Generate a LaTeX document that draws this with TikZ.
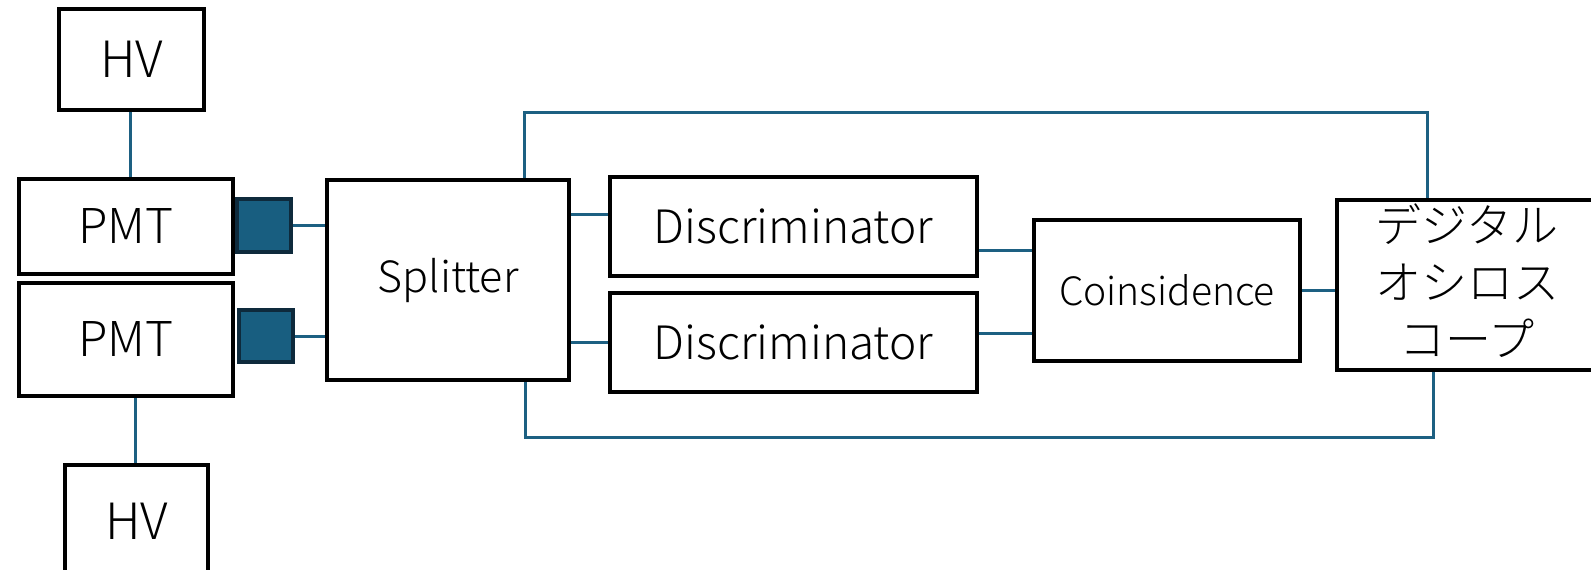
\documentclass[tikz,border=0pt]{standalone}
\usepackage{fontspec}
\setmainfont{Noto Sans CJK JP}[UprightFont=* Light]
\definecolor{wireblue}{HTML}{1D6082}
\definecolor{pmtfill}{HTML}{185E80}
\definecolor{pmtedge}{HTML}{0E2A3C}
\tikzset{
  unitbox/.style={draw=black, line width=4pt, fill=white, rectangle, inner sep=0pt, align=center},
  window/.style={draw=pmtedge, fill=pmtfill, line width=3.5pt, rectangle, inner sep=0pt},
  wire/.style={draw=wireblue, line width=3pt},
  fs/.style={font=\fontsize{#1}{#1}\selectfont}
}
\begin{document}
\begin{tikzpicture}[x=1pt, y=-1pt]
\useasboundingbox (0,0) rectangle (1591,570);

% high voltage supplies
\node[unitbox, fs=50, minimum width=145pt, minimum height=101pt] (hv1) at (131.5,59.5) {HV};
\node[unitbox, fs=50, minimum width=143pt, minimum height=113pt] (hv2) at (136.5,521.5) {HV};

% photomultiplier tubes and their windows
\node[unitbox, fs=48, minimum width=214pt, minimum height=95pt] (pmt1) at (126,226.5) {PMT};
\node[unitbox, fs=48, minimum width=214pt, minimum height=113pt] (pmt2) at (126,339.5) {PMT};
\node[window, minimum width=54pt, minimum height=53pt] (sq1) at (264,225.5) {};
\node[window, minimum width=54pt, minimum height=52pt] (sq2) at (266,336) {};

% signal chain
\node[unitbox, fs=43, minimum width=242pt, minimum height=200pt] (split) at (448,280) {Splitter};
\node[unitbox, fs=46, minimum width=367pt, minimum height=99pt] (disc1) at (793.5,226.5) {Discriminator};
\node[unitbox, fs=46, minimum width=367pt, minimum height=99pt] (disc2) at (793.5,342.5) {Discriminator};
\node[unitbox, fs=39, minimum width=266pt, minimum height=141pt] (coin) at (1167,290.5) {Coinsidence};
\node[unitbox, minimum width=281pt, minimum height=170pt] (scope) at (1477.5,285) {};
\node[align=center, inner sep=0pt, font=\fontsize{46}{57}\selectfont] (scopetext) at (1467,281)
  {デジタル\\オシロス\\コープ};

% high voltage cables
\draw[wire] (hv1.south -| 130,0) -- (pmt1.north -| 130,0);
\draw[wire] (pmt2.south -| 135,0) -- (hv2.north -| 135,0);

% signal cables
\draw[wire] (sq1.east) -- (sq1.east -| split.west);
\draw[wire] (sq2.east) -- (sq2.east -| split.west);
\draw[wire] (split.east |- 0,214) -- (disc1.west |- 0,214);
\draw[wire] (split.east |- 0,342) -- (disc2.west |- 0,342);
\draw[wire] (disc1.east |- 0,250) -- (coin.west |- 0,250);
\draw[wire] (disc2.east |- 0,333) -- (coin.west |- 0,333);
\draw[wire] (coin.east) -- (scope.west |- coin.east);

% direct lines from splitter to the oscilloscope
\coordinate (tl) at (524,112);
\coordinate (tr) at (1427,112);
\coordinate (bl) at (525,437);
\coordinate (br) at (1433,437);
\draw[wire] (tl |- split.north) -- (tl) -- (tr) -- (tr |- scope.north);
\draw[wire] (bl |- split.south) -- (bl) -- (br) -- (br |- scope.south);
\end{tikzpicture}
\end{document}
